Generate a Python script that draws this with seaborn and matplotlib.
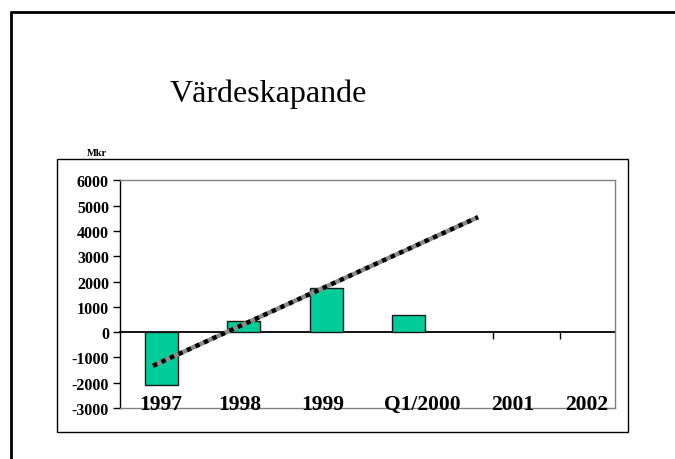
"""Värdeskapande - bar chart with a hand drawn trend line."""

import matplotlib.pyplot as plt
import pandas as pd
import seaborn as sns
from matplotlib.lines import Line2D
from matplotlib.patches import Rectangle
from matplotlib.transforms import blended_transform_factory

# data
CATEGORIES = ["1997", "1998", "1999", "Q1/2000", "2001", "2002"]
BAR_CATEGORIES = ["1997", "1998", "1999", "Q1/2000"]
BAR_VALUES = [-2080, 423, 1755, 660]
TREND_X = [-0.1, 3.84]
TREND_Y = [-1330, 4550]
Y_TICKS = [-3000, -2000, -1000, 0, 1000, 2000, 3000, 4000, 5000, 6000]

# layout (labels in the original are not centred on the bars)
LABEL_SHIFT = [-0.01, -0.05, -0.04, 0.17, 0.26, 0.16]
ZERO_TICKS = [4.02, 4.83]

BAR_COLOR = "#00CC99"
SERIF = "Liberation Serif"


def main() -> None:
    sns.set_theme(style="white")
    plt.rcParams["font.family"] = [SERIF, "DejaVu Serif"]
    plt.rcParams["text.color"] = "black"
    plt.rcParams["ytick.color"] = "black"
    plt.rcParams["ytick.labelcolor"] = "black"

    fig = plt.figure(figsize=(6.75, 4.6), dpi=100)
    fig.patch.set_facecolor("white")

    # slide frame and chart box
    fig.add_artist(Line2D([0.0163, 0.0163], [0, 0.9707], color="black", lw=2))
    fig.add_artist(Line2D([0.0163, 1.0], [0.9707, 0.9707], color="black", lw=2))
    fig.add_artist(
        Rectangle((0.0844, 0.0587), 0.846, 0.5935, fill=False,
                  edgecolor="black", lw=1, transform=fig.transFigure)
    )

    fig.text(0.397, 0.778, "Värdeskapande", ha="center", va="baseline",
             fontsize=23, color="black")
    fig.text(0.1437, 0.667, "Mkr", ha="center", va="center",
             fontsize=7.5, fontweight="bold", color="black")

    ax = fig.add_axes([0.1778, 0.1109, 0.7333, 0.4946])
    data = pd.DataFrame({"period": BAR_CATEGORIES, "value": BAR_VALUES})
    sns.barplot(data=data, x="period", y="value", order=CATEGORIES, ax=ax,
                color=BAR_COLOR, saturation=1, width=0.4,
                edgecolor="#1a1a1a", linewidth=1)

    # trend line: grey band with black squares on top
    ax.plot(TREND_X, TREND_Y, color="#8a8a8a", lw=3.2, solid_capstyle="butt")
    ax.plot(TREND_X, TREND_Y, color="black", lw=3.2, dashes=(1, 1.1),
            dash_capstyle="butt")

    ax.set_xlim(-0.5, len(CATEGORIES) - 0.5)
    ax.set_ylim(-3000, 6000)
    ax.set_yticks(Y_TICKS)
    ax.set_yticklabels([str(t) for t in Y_TICKS], fontsize=11.5,
                       fontweight="bold", color="black")
    ax.tick_params(axis="y", direction="out", length=5, width=1,
                   color="black", pad=3, left=True)
    ax.set_xticks([])
    ax.set_xlabel("")
    ax.set_ylabel("")

    for side in ("top", "right", "bottom"):
        ax.spines[side].set_color("#808080")
        ax.spines[side].set_linewidth(1)
    ax.spines["left"].set_color("black")
    ax.spines["left"].set_linewidth(1)

    # zero line with its two tick marks
    zero = ax.secondary_xaxis(0, transform=ax.transData)
    zero.spines["bottom"].set_color("black")
    zero.spines["bottom"].set_linewidth(1.3)
    zero.set_xticks(ZERO_TICKS, labels=["", ""])
    zero.tick_params(direction="out", length=5, width=1, color="black")

    label_trans = blended_transform_factory(ax.transData, ax.transAxes)
    for i, (name, shift) in enumerate(zip(CATEGORIES, LABEL_SHIFT)):
        ax.text(i + shift, -0.004, name, transform=label_trans, color="black",
                ha="center", va="baseline", fontsize=15.5, fontweight="bold")

    fig.savefig("out.png", dpi=100)
    plt.close(fig)


if __name__ == "__main__":
    main()
